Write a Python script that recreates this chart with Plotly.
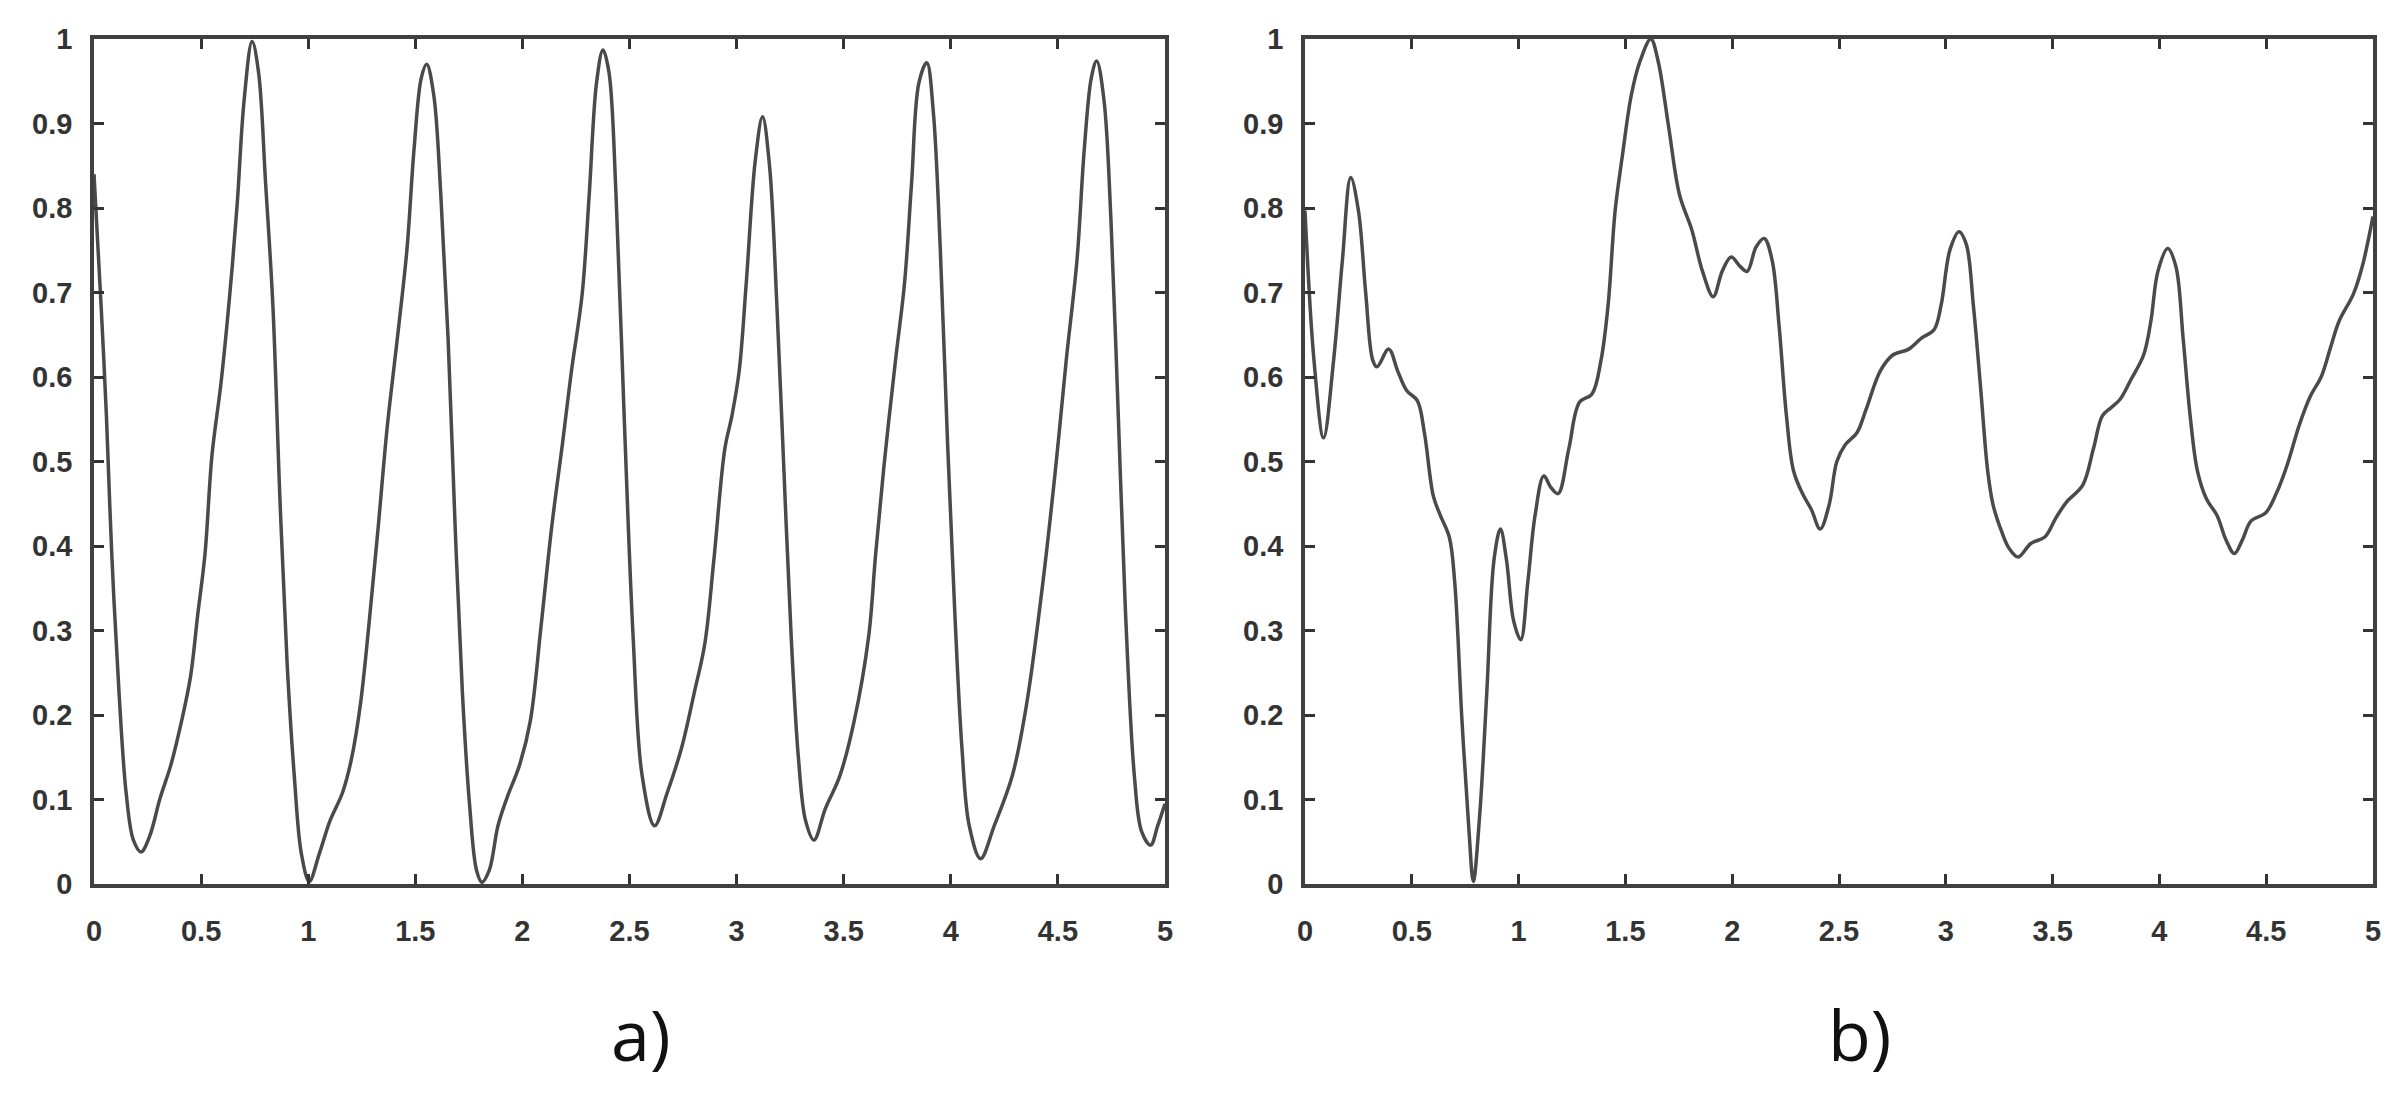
import plotly.graph_objects as go
from plotly.subplots import make_subplots

# left panel a)
x_a = [0, 0.033, 0.058, 0.083, 0.117, 0.15, 0.184, 0.22, 0.259, 0.309,
       0.359, 0.409, 0.451, 0.484, 0.518, 0.551, 0.593, 0.634, 0.668, 0.701,
       0.738, 0.768, 0.801, 0.835, 0.868, 0.902, 0.935, 0.968, 1.005, 1.052,
       1.102, 1.16, 1.202, 1.244, 1.285, 1.327, 1.369, 1.419, 1.461, 1.494,
       1.528, 1.553, 1.586, 1.619, 1.653, 1.686, 1.72, 1.753, 1.786, 1.811,
       1.845, 1.886, 1.928, 1.987, 2.037, 2.087, 2.137, 2.187, 2.229, 2.279,
       2.312, 2.346, 2.376, 2.404, 2.437, 2.475, 2.517, 2.559, 2.617, 2.676,
       2.743, 2.802, 2.852, 2.894, 2.945, 2.978, 3.012, 3.045, 3.087, 3.121,
       3.154, 3.188, 3.221, 3.255, 3.289, 3.322, 3.361, 3.414, 3.482, 3.549,
       3.616, 3.649, 3.691, 3.742, 3.784, 3.817, 3.851, 3.888, 3.918, 3.951,
       3.985, 4.018, 4.052, 4.086, 4.139, 4.203, 4.287, 4.354, 4.43, 4.488,
       4.539, 4.589, 4.623, 4.656, 4.681, 4.715, 4.748, 4.782, 4.815, 4.857,
       4.891, 4.933, 4.966, 5.0]
y_a = [0.84, 0.685, 0.554, 0.39, 0.226, 0.108, 0.052, 0.038, 0.056, 0.102,
       0.141, 0.193, 0.246, 0.318, 0.39, 0.508, 0.593, 0.698, 0.803, 0.928,
       0.997, 0.961, 0.83, 0.685, 0.456, 0.259, 0.128, 0.036, 0.003, 0.036,
       0.075, 0.108, 0.148, 0.213, 0.311, 0.423, 0.541, 0.652, 0.751, 0.869,
       0.954, 0.97, 0.934, 0.816, 0.646, 0.423, 0.226, 0.095, 0.016, 0.002,
       0.016, 0.069, 0.102, 0.141, 0.193, 0.305, 0.423, 0.521, 0.607, 0.698,
       0.816, 0.948, 0.987, 0.961, 0.816, 0.554, 0.292, 0.128, 0.069, 0.108,
       0.161, 0.226, 0.285, 0.384, 0.515, 0.554, 0.607, 0.711, 0.856, 0.908,
       0.849, 0.685, 0.489, 0.292, 0.148, 0.075, 0.052, 0.089, 0.128, 0.193,
       0.292, 0.39, 0.502, 0.62, 0.711, 0.83, 0.948, 0.972, 0.915, 0.751,
       0.521, 0.325, 0.161, 0.069, 0.03, 0.069, 0.128, 0.213, 0.357, 0.489,
       0.62, 0.738, 0.869, 0.954, 0.974, 0.928, 0.784, 0.554, 0.325, 0.128,
       0.062, 0.046, 0.069, 0.095]

# right panel b)
x_b = [0, 0.042, 0.087, 0.134, 0.175, 0.214, 0.25, 0.284, 0.317, 0.337,
       0.392, 0.434, 0.476, 0.526, 0.559, 0.601, 0.634, 0.676, 0.701, 0.735,
       0.768, 0.788, 0.818, 0.851, 0.885, 0.915, 0.943, 0.977, 1.01, 1.043,
       1.077, 1.118, 1.152, 1.185, 1.235, 1.285, 1.344, 1.386, 1.419, 1.452,
       1.486, 1.528, 1.569, 1.619, 1.653, 1.703, 1.753, 1.811, 1.861, 1.911,
       1.953, 1.995, 2.037, 2.07, 2.112, 2.15, 2.187, 2.22, 2.254, 2.287,
       2.329, 2.371, 2.412, 2.454, 2.49, 2.53, 2.584, 2.626, 2.693, 2.752,
       2.827, 2.886, 2.945, 2.978, 3.02, 3.062, 3.096, 3.129, 3.163, 3.196,
       3.221, 3.263, 3.297, 3.339, 3.398, 3.465, 3.515, 3.565, 3.641, 3.691,
       3.733, 3.775, 3.817, 3.867, 3.926, 3.96, 3.993, 4.039, 4.077, 4.111,
       4.144, 4.178, 4.22, 4.27, 4.312, 4.351, 4.388, 4.43, 4.497, 4.547,
       4.597, 4.656, 4.706, 4.757, 4.799, 4.841, 4.908, 4.95, 5.0]
y_b = [0.797, 0.62, 0.528, 0.62, 0.738, 0.836, 0.797, 0.70, 0.62, 0.612,
       0.633, 0.607, 0.584, 0.572, 0.534, 0.459, 0.436, 0.41, 0.357, 0.193,
       0.062, 0.003, 0.082, 0.226, 0.384, 0.42, 0.384, 0.311, 0.289, 0.357,
       0.436, 0.483, 0.469, 0.462, 0.515, 0.57, 0.58, 0.62, 0.685, 0.797,
       0.862, 0.934, 0.974, 1.0, 0.974, 0.895, 0.816, 0.774, 0.725, 0.695,
       0.725, 0.742, 0.731, 0.725, 0.754, 0.764, 0.738, 0.659, 0.554, 0.489,
       0.462, 0.443, 0.42, 0.449, 0.50, 0.52, 0.534, 0.561, 0.607, 0.626,
       0.633, 0.646, 0.656, 0.685, 0.751, 0.772, 0.757, 0.685, 0.587, 0.489,
       0.449, 0.416, 0.397, 0.387, 0.403, 0.411, 0.433, 0.452, 0.472, 0.515,
       0.554, 0.564, 0.574, 0.597, 0.626, 0.666, 0.725, 0.752, 0.731, 0.646,
       0.554, 0.489, 0.456, 0.436, 0.407, 0.391, 0.407, 0.43, 0.439, 0.462,
       0.495, 0.544, 0.577, 0.6, 0.633, 0.666, 0.698, 0.731, 0.79]

panel_labels = ['a)', 'b)']

fig = make_subplots(rows=1, cols=2)

curve = dict(color='#4a4a4a', width=3.5, shape='spline', smoothing=1.0)
fig.add_trace(go.Scatter(x=x_a, y=y_a, mode='lines', line=curve), row=1, col=1)
fig.add_trace(go.Scatter(x=x_b, y=y_b, mode='lines', line=curve), row=1, col=2)

tickfont = dict(family='Liberation Sans', size=29, color='#333333', weight='bold')
axis_common = dict(
    showline=True, linecolor='#404040', linewidth=3.5, mirror='ticks',
    ticks='inside', ticklen=10, tickwidth=3, tickcolor='#333333',
    showgrid=False, zeroline=False, tickfont=tickfont, automargin=False,
)

fig.update_xaxes(range=[0, 5], dtick=0.5, tick0=0, ticklabelstandoff=18, **axis_common)
fig.update_yaxes(range=[0, 1], dtick=0.1, tick0=0, ticklabelstandoff=12, **axis_common)

fig.update_layout(
    xaxis=dict(domain=[86 / 2403, 1157 / 2403]),
    xaxis2=dict(domain=[1297 / 2403, 2365 / 2403]),
    yaxis=dict(domain=[1 - 876 / 1100, 1 - 31 / 1100]),
    yaxis2=dict(domain=[1 - 876 / 1100, 1 - 31 / 1100]),
    width=2403, height=1100,
    margin=dict(l=0, r=0, t=0, b=0),
    paper_bgcolor='white', plot_bgcolor='white',
    showlegend=False,
)

for label, xc in zip(panel_labels, [633 / 2403, 1851 / 2403]):
    fig.add_annotation(text=label, x=xc, y=1 - 1026 / 1100, xref='paper', yref='paper',
                       xanchor='center', yanchor='middle', showarrow=False,
                       font=dict(family='Open Sans', size=70, color='#111111'))

fig.write_html("out.html")
